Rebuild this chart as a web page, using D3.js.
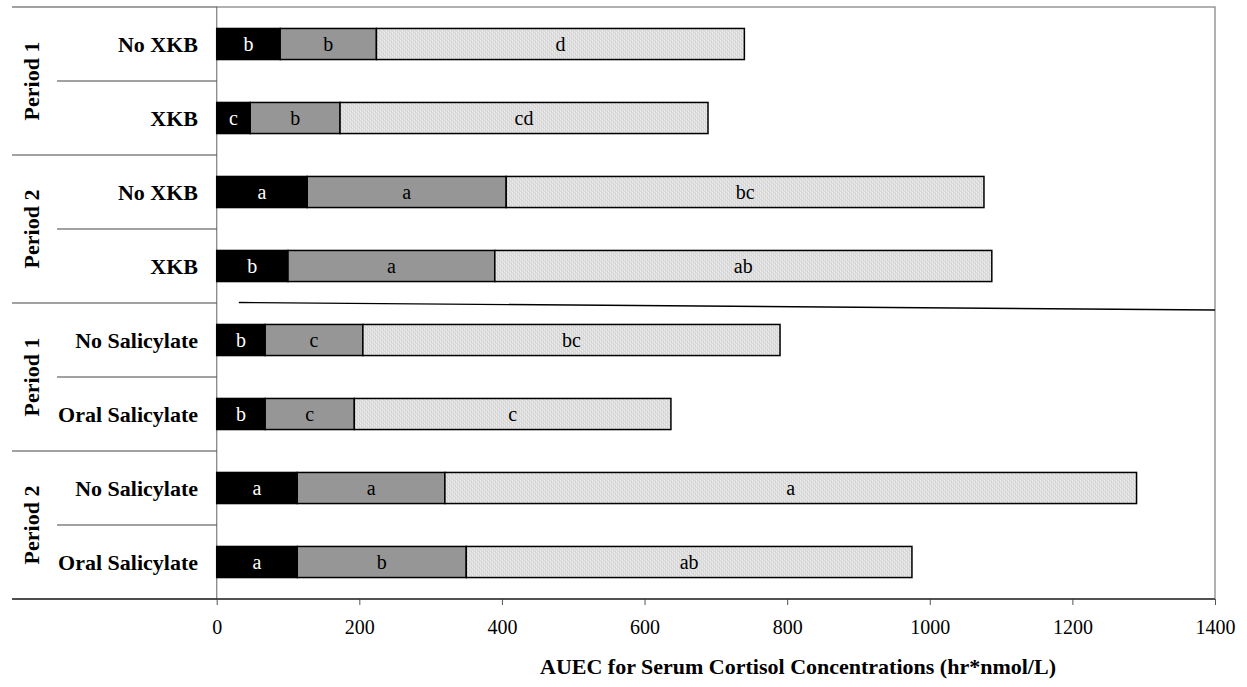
<!DOCTYPE html>
<html>
<head>
<meta charset="utf-8">
<script src="https://cdn.jsdelivr.net/npm/d3@7"></script>
<style>
  html, body { margin: 0; padding: 0; background: #fff; }
  #chart { width: 1247px; height: 687px; }
</style>
</head>
<body>
<div id="chart"></div>
<script>
// data
const groups = ["Period 1", "Period 2", "Period 1", "Period 2"]
const categories = ["No XKB", "XKB", "No XKB", "XKB", "No Salicylate", "Oral Salicylate", "No Salicylate", "Oral Salicylate"]
const seg1 = [89, 47, 127, 100, 68, 68, 113, 113]
const seg2 = [135, 126, 279, 290, 137, 125, 207, 237]
const seg3 = [516, 516, 670, 697, 585, 444, 970, 625]
const letters1 = ["b", "c", "a", "b", "b", "b", "a", "a"]
const letters2 = ["b", "b", "a", "a", "c", "c", "a", "b"]
const letters3 = ["d", "cd", "bc", "ab", "bc", "c", "a", "ab"]
const xTicks = [0, 200, 400, 600, 800, 1000, 1200, 1400]
const xTitle = "AUEC for Serum Cortisol Concentrations (hr*nmol/L)"

const W = 1247, H = 687
const plot = {left: 216.7, right: 1215, top: 7, bottom: 599}
const FONT = "'Liberation Serif', 'Times New Roman', 'DejaVu Serif', serif"

const svg = d3.select("#chart").append("svg")
  .attr("width", W).attr("height", H)
  .attr("font-family", FONT)

// 纹理填充
const defs = svg.append("defs")
const pat = defs.append("pattern").attr("id", "hatch")
  .attr("patternUnits", "userSpaceOnUse").attr("width", 4).attr("height", 4)
pat.append("rect").attr("width", 4).attr("height", 4).attr("fill", "#dedede")
pat.append("rect").attr("x", 0).attr("y", 0).attr("width", 1).attr("height", 1).attr("fill", "#f5f5f5")
pat.append("rect").attr("x", 2).attr("y", 2).attr("width", 1).attr("height", 1).attr("fill", "#f5f5f5")
pat.append("rect").attr("x", 1).attr("y", 3).attr("width", 1).attr("height", 1).attr("fill", "#cacaca")
pat.append("rect").attr("x", 3).attr("y", 1).attr("width", 1).attr("height", 1).attr("fill", "#cacaca")

const rows = categories.map((c, i) => ({
  i, cat: c,
  segs: [
    {x0: 0, x1: seg1[i], fill: "#000", color: "#fff", label: letters1[i]},
    {x0: seg1[i], x1: seg1[i] + seg2[i], fill: "#969696", color: "#000", label: letters2[i]},
    {x0: seg1[i] + seg2[i], x1: seg1[i] + seg2[i] + seg3[i], fill: "url(#hatch)", color: "#000", label: letters3[i]}
  ]
}))

const x = d3.scaleLinear().domain([0, 1400]).range([plot.left, plot.right])
const y = d3.scaleBand().domain(d3.range(categories.length))
  .range([plot.top, plot.bottom]).paddingInner(0.58).paddingOuter(0.29)
const step = y.step()

// plot border
svg.append("rect")
  .attr("x", plot.left).attr("y", plot.top)
  .attr("width", plot.right - plot.left).attr("height", plot.bottom - plot.top)
  .attr("fill", "none").attr("stroke", "#888").attr("stroke-width", 1.3)

// 左侧分隔线
const labelLeft = 12, innerLeft = 57
d3.range(categories.length + 1).forEach(k => {
  const yy = plot.top + k * step
  svg.append("line")
    .attr("x1", k % 2 === 0 ? labelLeft : innerLeft).attr("x2", plot.left)
    .attr("y1", yy).attr("y2", yy)
    .attr("stroke", "#444").attr("stroke-width", 1.2)
})

// bars
const rowG = svg.append("g").selectAll("g").data(rows).enter().append("g")
  .attr("transform", d => `translate(0,${y(d.i)})`)

rowG.selectAll("rect").data(d => d.segs).enter().append("rect")
  .attr("x", d => x(d.x0)).attr("y", 0)
  .attr("width", d => x(d.x1) - x(d.x0)).attr("height", y.bandwidth())
  .attr("fill", d => d.fill).attr("stroke", "#000").attr("stroke-width", 1.5)

rowG.selectAll("text").data(d => d.segs).enter().append("text")
  .attr("x", d => (x(d.x0) + x(d.x1)) / 2).attr("y", y.bandwidth() / 2)
  .attr("dy", "0.33em").attr("text-anchor", "middle")
  .attr("font-size", 20).attr("fill", d => d.color)
  .text(d => d.label)

// category labels
svg.append("g").selectAll("text").data(rows).enter().append("text")
  .attr("x", 198).attr("y", d => y(d.i) + y.bandwidth() / 2)
  .attr("dy", "0.35em").attr("text-anchor", "end")
  .attr("font-size", 22).attr("font-weight", "bold")
  .text(d => d.cat)

// period labels
svg.append("g").selectAll("text").data(groups).enter().append("text")
  .attr("transform", (d, k) => `translate(39,${plot.top + (2 * k + 1) * step}) rotate(-90)`)
  .attr("text-anchor", "middle")
  .attr("font-size", 22).attr("font-weight", "bold")
  .text(d => d)

// 分组斜线
const ySplit = plot.top + 4 * step
svg.append("line")
  .attr("x1", x(31)).attr("y1", ySplit - 0.5)
  .attr("x2", x(1400)).attr("y2", ySplit + 7)
  .attr("stroke", "#000").attr("stroke-width", 1.4)

// x axis
const axis = svg.append("g").attr("transform", `translate(0,${plot.bottom})`)
  .call(d3.axisBottom(x).tickValues(xTicks).tickSize(6).tickPadding(15).tickFormat(d3.format("d")))
axis.select(".domain").remove()
axis.selectAll("line").attr("stroke", "#555")
axis.selectAll("text").attr("font-size", 20).attr("fill", "#000")
  .attr("font-family", FONT)

svg.append("line")
  .attr("x1", labelLeft).attr("x2", plot.right)
  .attr("y1", plot.bottom).attr("y2", plot.bottom)
  .attr("stroke", "#333").attr("stroke-width", 1.3)

svg.append("text")
  .attr("x", 798).attr("y", 674)
  .attr("text-anchor", "middle").attr("font-size", 22).attr("font-weight", "bold")
  .text(xTitle)
</script>
</body>
</html>
